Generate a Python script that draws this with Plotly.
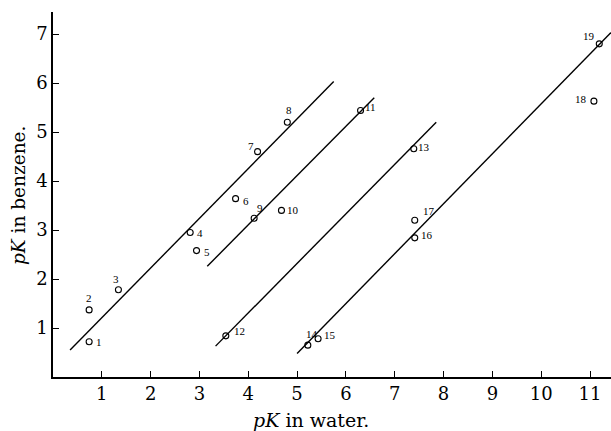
import plotly.graph_objects as go

# data points: pK in water (x) vs pK in benzene (y)
point_ids = ["1", "2", "3", "4", "5", "6", "7", "8", "9", "10",
             "11", "12", "13", "14", "15", "16", "17", "18", "19"]
pk_water = [0.74, 0.74, 1.34, 2.81, 2.94, 3.74, 4.19, 4.80, 4.12, 4.68,
            6.30, 3.54, 7.39, 5.22, 5.43, 7.41, 7.41, 11.08, 11.19]
pk_benzene = [0.72, 1.37, 1.78, 2.95, 2.58, 3.64, 4.60, 5.20, 3.24, 3.40,
              5.44, 0.84, 4.66, 0.65, 0.78, 2.84, 3.20, 5.63, 6.80]

# fitted lines (start/end in data units)
line_x0 = [0.35, 3.16, 3.33, 5.00]
line_y0 = [0.55, 2.26, 0.63, 0.48]
line_x1 = [5.75, 6.58, 7.85, 11.43]
line_y1 = [6.03, 5.70, 5.20, 7.03]

x_ticks = [1, 2, 3, 4, 5, 6, 7, 8, 9, 10, 11]
y_ticks = [1, 2, 3, 4, 5, 6, 7]

# label offsets in pixels (style only)
label_dx = [10, 0, -2, 10, 10, 10, -7, 2, 6, 12, 10, 14, 10, 4, 12, 12, 14, -13, -10]
label_dy = [0, -12, -11, 1, 1, 2, -6, -12, -10, 0, -3, -5, -2, -11, -4, -3, -9, -2, -8]

serif = "DejaVu Serif"

fig = go.Figure()
for i in range(len(line_x0)):
    fig.add_trace(go.Scatter(
        x=[line_x0[i], line_x1[i]], y=[line_y0[i], line_y1[i]],
        mode="lines", line=dict(color="black", width=1.4),
        showlegend=False, hoverinfo="skip"))

fig.add_trace(go.Scatter(
    x=pk_water, y=pk_benzene, mode="markers",
    marker=dict(symbol="circle-open", size=6, color="black", line=dict(width=1.1)),
    showlegend=False))

for i, pid in enumerate(point_ids):
    fig.add_annotation(
        x=pk_water[i], y=pk_benzene[i], text=pid, showarrow=False,
        xshift=label_dx[i], yshift=-label_dy[i],
        font=dict(family="Liberation Serif", size=11, color="black"))

fig.update_layout(
    width=611, height=431,
    margin=dict(l=53, r=0, t=12, b=54),
    paper_bgcolor="white", plot_bgcolor="white",
    font=dict(family=serif, size=18, color="black"),
    xaxis=dict(range=[0, 11.43], tickvals=x_ticks, ticks="inside", ticklen=6,
               tickwidth=1.2, tickcolor="black", showline=True, linecolor="black",
               linewidth=1.6, showgrid=False, zeroline=False,
               tickfont=dict(family=serif, size=18)),
    yaxis=dict(range=[0, 7.45], tickvals=y_ticks, ticks="inside", ticklen=6,
               tickwidth=1.2, tickcolor="black", showline=True, linecolor="black",
               linewidth=1.6, showgrid=False, zeroline=False,
               tickfont=dict(family=serif, size=18)),
)

fig.add_annotation(
    xref="paper", yref="paper", x=(311 - 53) / 558, y=-(420 - 377) / 365,
    text="<i>pK</i> in water.", showarrow=False, xanchor="center", yanchor="middle",
    font=dict(family=serif, size=19, color="black"))
fig.add_annotation(
    xref="paper", yref="paper", x=-(53 - 19) / 558, y=(377 - 196) / 365,
    text="<i>pK</i> in benzene.", showarrow=False, textangle=-90,
    xanchor="center", yanchor="middle",
    font=dict(family=serif, size=18.5, color="black"))

fig.write_html("out.html")
